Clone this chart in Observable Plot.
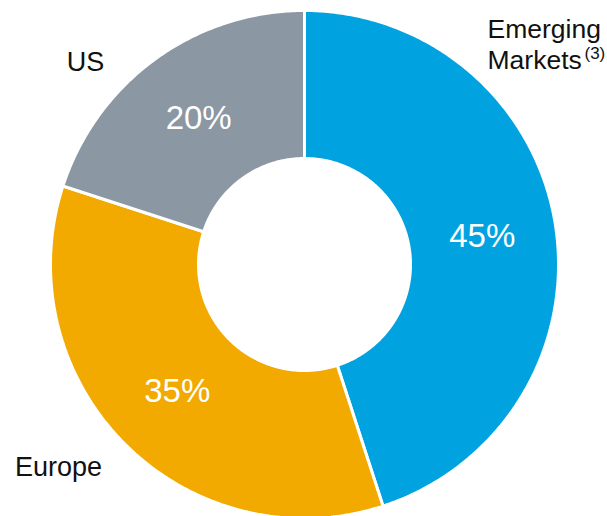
<!DOCTYPE html>
<html>
<head>
<meta charset="utf-8">
<script src="https://cdn.jsdelivr.net/npm/d3@7"></script>
<script src="https://cdn.jsdelivr.net/npm/@observablehq/plot@0.6"></script>
<style>
  html, body { margin: 0; padding: 0; background: #fff; }
  #chart { width: 607px; height: 516px; }
</style>
</head>
<body>
<div id="chart"></div>
<script>
// ---- data ----
const categories = ["Emerging Markets", "Europe", "US"];
const shares = [45, 35, 20];
const shareLabels = ["45%", "35%", "20%"];
const colors = ["#00a3e0", "#f2a900", "#8b97a3"];

// ---- layout (pixel space) ----
const W = 607, H = 516;
const cx = 304, cy = 264, R = 254, r0 = 106;

const pie = d3.pie().sort(null).value(d => d.value);
const arcs = pie(categories.map((c, i) => ({ category: c, value: shares[i], label: shareLabels[i] })));

const pt = (a, rad) => [cx + rad * Math.sin(a), cy - rad * Math.cos(a)];

// polygon outline for each slice, traced along its arcs
const poly = [];
arcs.forEach(a => {
  const steps = Math.max(8, Math.ceil((a.endAngle - a.startAngle) / 0.01));
  for (let k = 0; k <= steps; k++) {
    const t = a.startAngle + (a.endAngle - a.startAngle) * k / steps;
    const [x, y] = pt(t, R);
    poly.push({ category: a.data.category, x, y });
  }
  for (let k = steps; k >= 0; k--) {
    const t = a.startAngle + (a.endAngle - a.startAngle) * k / steps;
    const [x, y] = pt(t, r0);
    poly.push({ category: a.data.category, x, y });
  }
});

const inner = arcs.map(a => {
  const m = (a.startAngle + a.endAngle) / 2;
  const [x, y] = pt(m, (R + r0) / 2);
  return { x, y, label: a.data.label };
});

const leftLabels = [
  { text: "Emerging", x: 487, y: 29 },
  { text: "Markets", x: 487, y: 60 }
];
const midLabels = [
  { text: "US", x: 85, y: 62 },
  { text: "Europe", x: 58, y: 467 }
];

const chart = Plot.plot({
  width: W,
  height: H,
  margin: 0,
  x: { domain: [0, W], range: [0, W], axis: null },
  y: { domain: [0, H], range: [0, H], axis: null },
  color: { domain: categories, range: colors },
  style: { fontFamily: "'Liberation Sans', Arial, sans-serif", background: "#fff" },
  marks: [
    Plot.line(poly, {
      x: "x", y: "y", z: "category", fill: "category",
      stroke: "#fff", strokeWidth: 3, curve: "linear-closed", strokeLinejoin: "miter"
    }),
    Plot.text(inner, {
      x: "x", y: "y", text: "label", fill: "#fff", fontSize: 33, lineAnchor: "middle"
    }),
    Plot.text(leftLabels, {
      x: "x", y: "y", text: "text", textAnchor: "start", fill: "#111",
      fontSize: 26.5, lineAnchor: "middle"
    }),
    Plot.text(midLabels, {
      x: "x", y: "y", text: "text", textAnchor: "middle", fill: "#111",
      fontSize: 27, lineAnchor: "middle"
    }),
    Plot.text(["(3)"], {
      x: () => 584, y: () => 53, text: d => d, fill: "#111", fontSize: 17,
      textAnchor: "start", lineAnchor: "middle"
    })
  ]
});

document.getElementById("chart").appendChild(chart);
</script>
</body>
</html>
